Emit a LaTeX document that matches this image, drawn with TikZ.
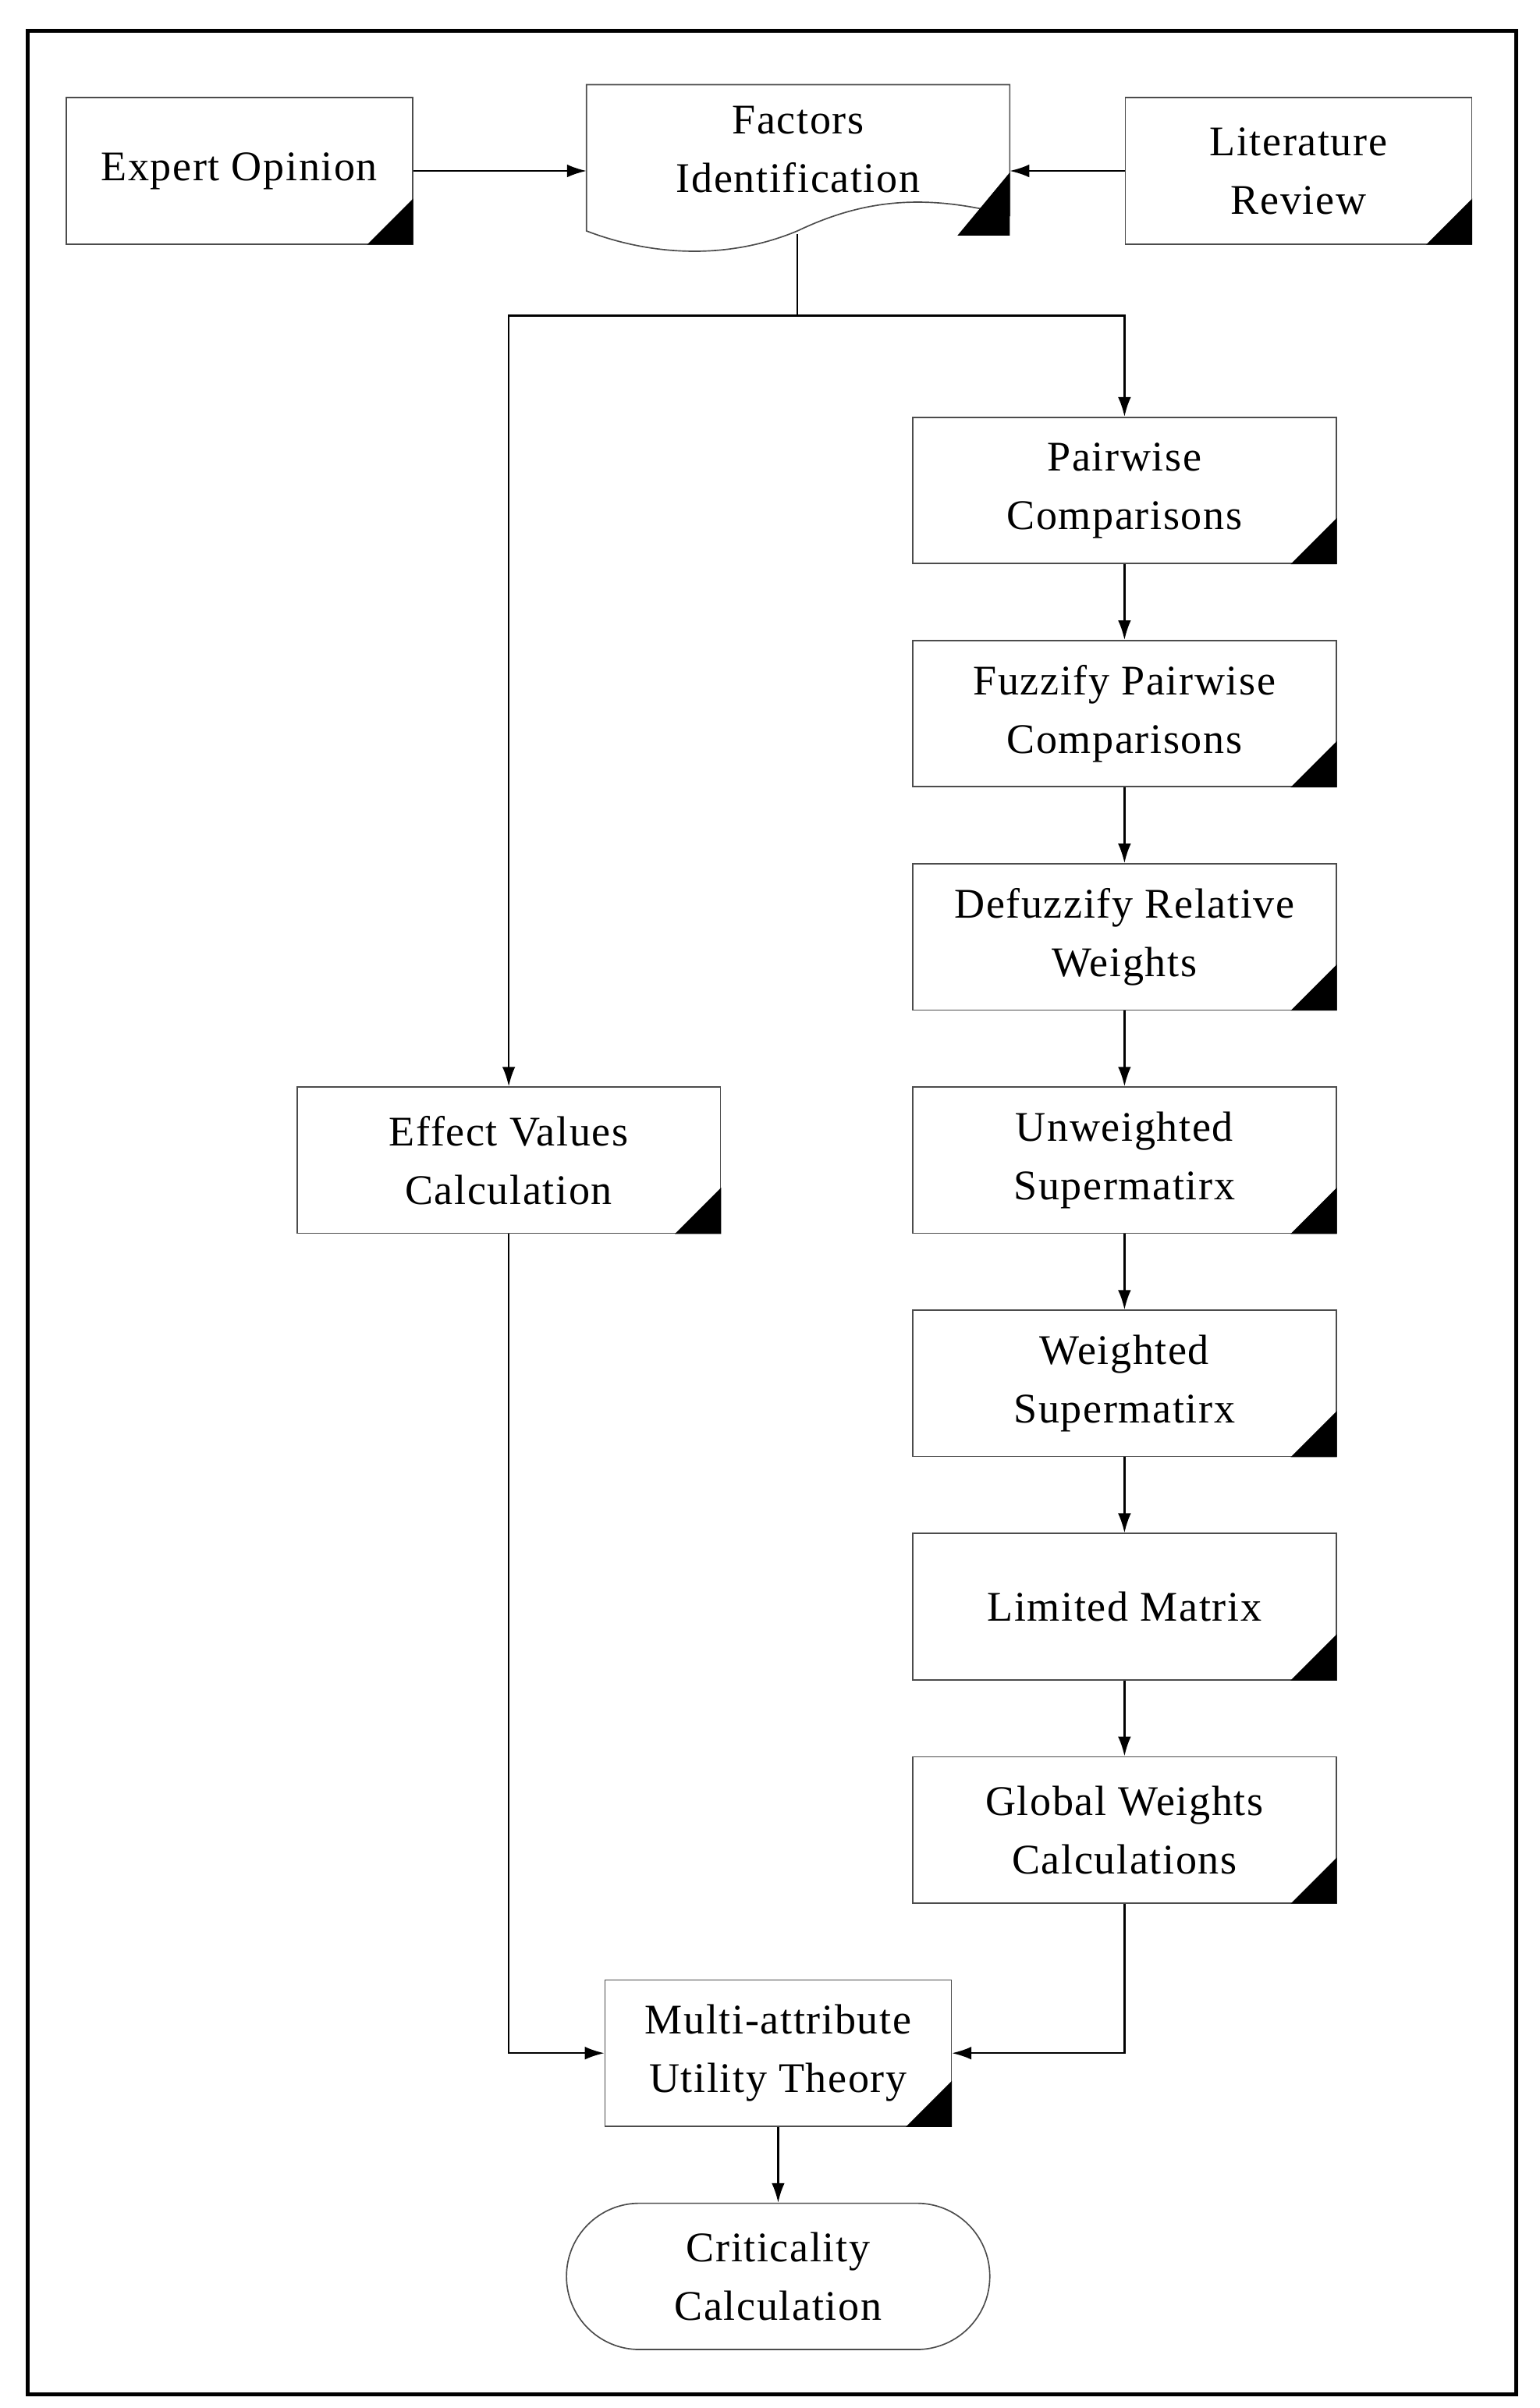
\documentclass[tikz,border=0pt]{standalone}
\usepackage{fontspec}
\setmainfont[LetterSpace=3]{Liberation Serif}
\usetikzlibrary{arrows.meta}
\begin{document}
\begin{tikzpicture}[x=0.05cm,y=-0.05cm,
  box/.style={draw=black!70,line width=1.2pt,minimum width=13.75cm,minimum height=4.75cm,align=center,inner sep=0pt,font=\fontsize{39}{54}\selectfont},
  conn/.style={line width=1.6pt,-{Latex[length=18pt,width=12pt]}},
  plain/.style={line width=1.6pt}]
\useasboundingbox (0,0) rectangle (1000,1564);
\fill[white] (0,0) rectangle (1000,1564);
\draw[line width=4pt] (18,20) rectangle (985,1555);
\node[box,minimum width=11.25cm] (exp) at (155.5,111) {Expert Opinion};
\node[box,minimum width=11.25cm] (lit) at (843.5,111) {Literature\\Review};
% document shape
\draw[draw=black!70,line width=1.2pt] (381,55) -- (656,55) -- (656,140) .. controls (600,125) and (560,130) .. (518,150) .. controls (470,170) and (420,165) .. (381,150) -- cycle;
\node[align=center,font=\fontsize{39}{54}\selectfont] (fac) at (518.5,97) {Factors\\Identification};
\coordinate (facL) at (381,111);
\coordinate (facR) at (656,111);
\coordinate (facB) at (518,152);
\fill (656,112) -- (656,153) -- (622,153) -- cycle;
\node[box] (pw) at (730.5,318.5) {Pairwise\\Comparisons};
\node[box] (fz) at (730.5,463.5) {Fuzzify Pairwise\\Comparisons};
\node[box] (dz) at (730.5,608.5) {Defuzzify Relative\\Weights};
\node[box] (uw) at (730.5,753.5) {Unweighted\\Supermatirx};
\node[box] (ws) at (730.5,898.5) {Weighted\\Supermatirx};
\node[box] (lm) at (730.5,1043.5) {Limited Matrix};
\node[box] (gw) at (730.5,1188.5) {Global Weights\\Calculations};
\node[box] (ev) at (330.5,753.5) {Effect Values\\Calculation};
\node[box,minimum width=11.25cm] (ma) at (505.5,1333.5) {Multi-attribute\\Utility Theory};
\node[box,rounded corners=2.37cm] (cr) at (505.5,1478.5) {Criticality\\Calculation};
\foreach \n in {exp,lit,pw,fz,dz,uw,ws,lm,gw,ev,ma}{
  \fill (\n.south east) -- ([yshift=1.5cm]\n.south east) -- ([xshift=-1.5cm]\n.south east) -- cycle;}
\draw[conn] (exp) -- (facL);
\draw[conn] (lit) -- (facR);
\coordinate (j) at (518,205);
\draw[plain] (facB) -- (j);
\draw[conn] (j) -| (pw.north);
\draw[conn] (j) -| (ev.north);
\draw[conn] (pw) -- (fz);
\draw[conn] (fz) -- (dz);
\draw[conn] (dz) -- (uw);
\draw[conn] (uw) -- (ws);
\draw[conn] (ws) -- (lm);
\draw[conn] (lm) -- (gw);
\draw[conn] (ev.south) |- (ma.west);
\draw[conn] (gw.south) |- (ma.east);
\draw[conn] (ma) -- (cr);
\end{tikzpicture}
\end{document}
